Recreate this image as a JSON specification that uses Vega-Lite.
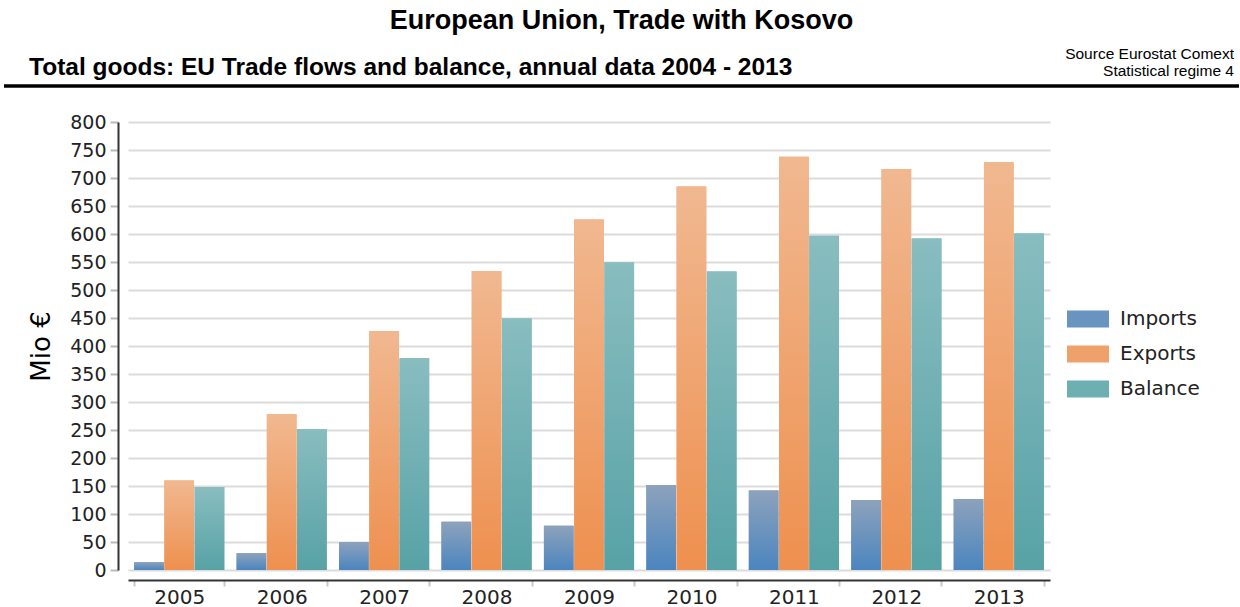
{
  "$schema": "https://vega.github.io/schema/vega-lite/v6.json",
  "padding": {"left": 2, "top": 7, "right": 0, "bottom": 0},
  "background": "white",
  "title": {"text": "European Union, Trade with Kosovo", "anchor": "middle", "frame": "bounds", "font": "Liberation Sans", "fontSize": 27, "fontWeight": "bold", "color": "#000", "offset": 9},
  "spacing": 25,
  "config": {"view": {"stroke": null}},
  "vconcat": [
    {
      "width": 1106,
      "height": 42,
      "data": {"values": [{}]},
      "layer": [
        {
          "mark": {"type": "rule", "strokeWidth": 3.5, "color": "#000"},
          "encoding": {
            "x": {"datum": -0.1121, "type": "quantitative", "scale": {"domain": [0, 1]}, "axis": null},
            "x2": {"datum": 1.0045},
            "y": {"datum": 0, "type": "quantitative", "scale": {"domain": [0, 1]}, "axis": null}
          }
        },
        {
          "mark": {"type": "text", "text": "Total goods: EU Trade flows and balance, annual data 2004 - 2013", "align": "left", "baseline": "alphabetic", "font": "Liberation Sans", "fontSize": 24.5, "fontWeight": "bold", "color": "#000"},
          "encoding": {
            "x": {"datum": -0.0895, "type": "quantitative"},
            "y": {"datum": 0.26, "type": "quantitative"}
          }
        },
        {
          "mark": {"type": "text", "text": "Source Eurostat Comext", "align": "right", "baseline": "alphabetic", "font": "Liberation Sans", "fontSize": 15.5, "color": "#000"},
          "encoding": {
            "x": {"datum": 1, "type": "quantitative"},
            "y": {"datum": 0.65, "type": "quantitative"}
          }
        },
        {
          "mark": {"type": "text", "text": "Statistical regime 4", "align": "right", "baseline": "alphabetic", "font": "Liberation Sans", "fontSize": 15.5, "color": "#000"},
          "encoding": {
            "x": {"datum": 1, "type": "quantitative"},
            "y": {"datum": 0.25, "type": "quantitative"}
          }
        }
      ]
    },
    {
      "width": 922,
      "height": 448,
      "data": {
        "values": [
          {"year": "2005", "series": "Imports", "value": 14},
          {"year": "2006", "series": "Imports", "value": 30},
          {"year": "2007", "series": "Imports", "value": 50},
          {"year": "2008", "series": "Imports", "value": 86},
          {"year": "2009", "series": "Imports", "value": 79},
          {"year": "2010", "series": "Imports", "value": 152},
          {"year": "2011", "series": "Imports", "value": 142},
          {"year": "2012", "series": "Imports", "value": 125},
          {"year": "2013", "series": "Imports", "value": 127},
          {"year": "2005", "series": "Exports", "value": 160},
          {"year": "2006", "series": "Exports", "value": 278},
          {"year": "2007", "series": "Exports", "value": 427},
          {"year": "2008", "series": "Exports", "value": 534},
          {"year": "2009", "series": "Exports", "value": 626},
          {"year": "2010", "series": "Exports", "value": 685},
          {"year": "2011", "series": "Exports", "value": 738},
          {"year": "2012", "series": "Exports", "value": 716},
          {"year": "2013", "series": "Exports", "value": 728},
          {"year": "2005", "series": "Balance", "value": 148},
          {"year": "2006", "series": "Balance", "value": 252},
          {"year": "2007", "series": "Balance", "value": 378},
          {"year": "2008", "series": "Balance", "value": 449},
          {"year": "2009", "series": "Balance", "value": 549},
          {"year": "2010", "series": "Balance", "value": 533},
          {"year": "2011", "series": "Balance", "value": 597},
          {"year": "2012", "series": "Balance", "value": 592},
          {"year": "2013", "series": "Balance", "value": 601}
        ]
      },
      "encoding": {
        "x": {
          "field": "year", "type": "ordinal",
          "scale": {"paddingInner": 0.12, "paddingOuter": 0.06},
          "axis": {"title": null, "labelAngle": 0, "offset": 10, "domainColor": "#333", "domainWidth": 2, "tickBand": "extent", "tickColor": "#c8c8c8", "tickWidth": 2, "tickSize": 6, "labelFont": "DejaVu Sans", "labelFontSize": 20, "labelColor": "#222", "labelPadding": 1, "grid": false}
        },
        "xOffset": {"field": "series", "type": "nominal", "sort": ["Imports", "Exports", "Balance"], "scale": {"paddingInner": 0.02}},
        "y": {
          "field": "value", "type": "quantitative",
          "scale": {"domain": [0, 800]},
          "axis": {"values": [0, 50, 100, 150, 200, 250, 300, 350, 400, 450, 500, 550, 600, 650, 700, 750, 800], "offset": 10, "domainColor": "#333", "domainWidth": 2, "tickColor": "#bbb", "tickWidth": 2, "tickSize": 8, "labelFont": "DejaVu Sans", "labelFontSize": 19, "labelColor": "#222", "labelPadding": 4, "gridColor": "#dcdcdc", "gridWidth": 2, "title": "Mio €", "titleFont": "DejaVu Sans", "titleFontSize": 26, "titleFontWeight": "normal", "titleColor": "#000", "titlePadding": 15}
        }
      },
      "layer": [
        {
          "mark": {"type": "bar"},
          "encoding": {
            "color": {
              "field": "series", "type": "nominal",
              "scale": {"domain": ["Imports", "Exports", "Balance"], "range": ["#6a94c0", "#efa16c", "#6eafb2"]},
              "legend": {
                "title": null, "orient": "none", "legendX": 948, "legendY": 263,
                "symbolType": "M-1.75,-0.7H1.75V0.7H-1.75Z", "symbolSize": 576, "symbolStrokeWidth": 0,
                "labelFont": "DejaVu Sans", "labelFontSize": 20, "labelColor": "#222", "labelOffset": 20, "rowPadding": 13
              }
            }
          }
        },
        {
          "mark": {"type": "bar"},
          "encoding": {
            "fill": {
              "condition": [
                {"test": "datum.series === 'Imports'", "value": {"gradient": "linear", "x1": 0, "y1": 0, "x2": 0, "y2": 1, "stops": [{"offset": 0, "color": "#8da2bc"}, {"offset": 1, "color": "#4b85bf"}]}},
                {"test": "datum.series === 'Exports'", "value": {"gradient": "linear", "x1": 0, "y1": 0, "x2": 0, "y2": 1, "stops": [{"offset": 0, "color": "#f1b890"}, {"offset": 1, "color": "#ee904f"}]}}
              ],
              "value": {"gradient": "linear", "x1": 0, "y1": 0, "x2": 0, "y2": 1, "stops": [{"offset": 0, "color": "#89bdc0"}, {"offset": 1, "color": "#57a2a6"}]}
            }
          }
        }
      ]
    }
  ]
}
